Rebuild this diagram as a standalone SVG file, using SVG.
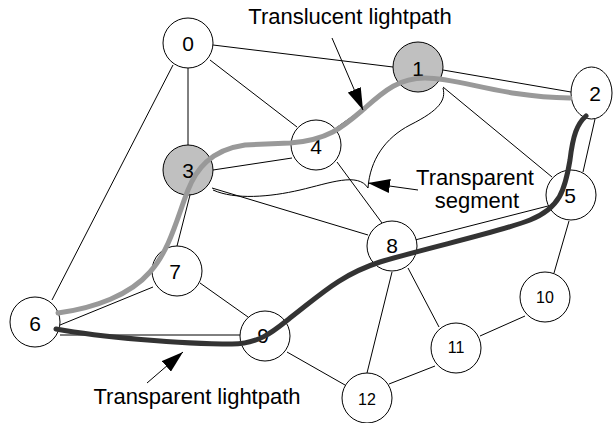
<svg xmlns="http://www.w3.org/2000/svg" width="613" height="423" viewBox="0 0 613 423">
<defs>
<style>
.e{stroke:#000;stroke-width:1;fill:none}
.n{fill:#fff;stroke:#000;stroke-width:1}
.g{fill:#c0c0c0;stroke:#000;stroke-width:1}
.t{font-family:"Liberation Sans",Arial,sans-serif;font-size:21px;text-anchor:middle;dominant-baseline:central;fill:#000}
.s{font-size:16px}
.lab{font-family:"Liberation Sans",Arial,sans-serif;font-size:22px;fill:#000}
</style>
<marker id="ah" markerWidth="24" markerHeight="14" refX="22" refY="7" orient="auto" markerUnits="userSpaceOnUse">
<path d="M0,0 L22,7 L0,14 Z" fill="#000"/>
</marker>
</defs>
<rect width="613" height="423" fill="#fff"/>
<g id="edges">
<line class="e" x1="213" y1="45" x2="393" y2="67"/>
<line class="e" x1="188" y1="68" x2="188" y2="145"/>
<line class="e" x1="210" y1="60" x2="297" y2="127"/>
<line class="e" x1="173" y1="65" x2="52" y2="300"/>
<line class="e" x1="443" y1="70" x2="571" y2="92"/>
<line class="e" x1="398" y1="84" x2="336" y2="128"/>
<line class="e" x1="443" y1="87" x2="552" y2="177"/>
<line class="e" x1="595" y1="119" x2="583" y2="172"/>
<line class="e" x1="213" y1="170" x2="292" y2="158"/>
<line class="e" x1="212" y1="188" x2="368" y2="235"/>
<line class="e" x1="337" y1="162" x2="382" y2="223"/>
<line class="e" x1="190" y1="195" x2="177" y2="246"/>
<line class="e" x1="60" y1="325" x2="153" y2="287"/>
<line class="e" x1="60" y1="335" x2="240" y2="335"/>
<line class="e" x1="200" y1="283" x2="248" y2="317"/>
<line class="e" x1="287" y1="352" x2="345" y2="385"/>
<line class="e" x1="392" y1="272" x2="367" y2="373"/>
<line class="e" x1="408" y1="268" x2="439" y2="327"/>
<line class="e" x1="435" y1="366" x2="389" y2="384"/>
<line class="e" x1="525" y1="316" x2="480" y2="336"/>
<line class="e" x1="569" y1="221" x2="554" y2="273"/>
<line class="e" x1="415" y1="240" x2="548" y2="206"/>
</g>
<g id="node0"><circle class="n" cx="188" cy="43" r="25"/><text class="t" x="188" y="43">0</text></g>
<g id="node1"><circle class="g" cx="418" cy="67" r="25"/><text class="t" x="418" y="68">1</text></g>
<g id="node2"><ellipse class="n" cx="591.5" cy="93" rx="20.5" ry="26"/><text class="t" x="595" y="93">2</text></g>
<g id="node3"><circle class="g" cx="188" cy="170" r="25"/><text class="t" x="188" y="170">3</text></g>
<g id="node4"><circle class="n" cx="316" cy="145" r="25"/><text class="t" x="316" y="146">4</text></g>
<g id="node5"><circle class="n" cx="571" cy="195" r="25"/><text class="t" x="570" y="195">5</text></g>
<g id="node6"><circle class="n" cx="35" cy="322" r="25"/><text class="t" x="35" y="323">6</text></g>
<g id="node7"><circle class="n" cx="177" cy="271" r="25"/><text class="t" x="175" y="271">7</text></g>
<g id="node8"><circle class="n" cx="392" cy="246" r="25"/><text class="t" x="392" y="245">8</text></g>
<g id="node9"><circle class="n" cx="265" cy="336" r="25"/><text class="t" x="263" y="335">9</text></g>
<g id="node10"><circle class="n" cx="545" cy="297" r="25"/><text class="t s" x="545" y="297">10</text></g>
<g id="node11"><circle class="n" cx="456" cy="348" r="25"/><text class="t s" x="456" y="347">11</text></g>
<g id="node12"><circle class="n" cx="367" cy="398" r="25"/><text class="t s" x="367" y="399">12</text></g>
<g id="connectors">
<path d="M58,313 C95,308 130,295 150,272 C170,250 178,215 188,190 C196,170 210,150 245,145 L290,143 C330,140 345,125 365,108 C385,90 400,78 425,78 C460,78 500,97 570,98" fill="none" stroke="#999" stroke-width="5" stroke-linecap="round"/>
<path d="M56,329 C100,337 180,344 232,344 C260,344 275,330 290,318 C320,295 340,275 380,262 C430,247 500,232 530,220 C560,208 565,190 570,160 C573,135 577,124 586,116" fill="none" stroke="#333" stroke-width="5" stroke-linecap="round"/>
<path class="e" d="M213,190 C235,200 270,197 300,190 C330,183 358,172 368,188 C370,160 385,138 410,125 C440,110 446,100 443,88"/>
<line class="e" x1="332" y1="38" x2="363" y2="110" marker-end="url(#ah)"/>
<line class="e" x1="418" y1="190" x2="368" y2="183" marker-end="url(#ah)"/>
<line class="e" x1="147" y1="383" x2="183" y2="352" marker-end="url(#ah)"/>
</g>
<text class="lab" x="350" y="24" text-anchor="middle">Translucent lightpath</text>
<text class="lab" x="475" y="185" text-anchor="middle">Transparent</text>
<text class="lab" x="477" y="208" text-anchor="middle">segment</text>
<text class="lab" x="197" y="404" text-anchor="middle">Transparent lightpath</text>
</svg>
